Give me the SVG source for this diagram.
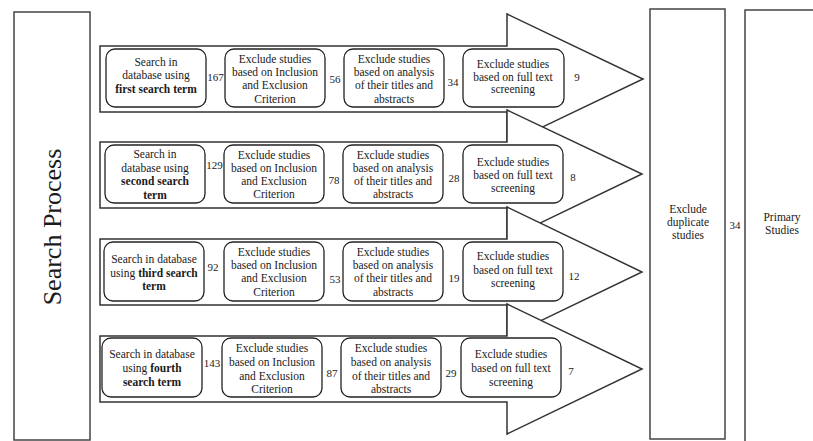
<svg xmlns="http://www.w3.org/2000/svg" width="813" height="441" viewBox="0 0 813 441" font-family="'Liberation Serif', 'Times New Roman', serif">
<style>
  text { font-family: "Liberation Serif", "Times New Roman", serif; fill: #1a1a1a; }
  .t { font-size: 11.5px; text-anchor: middle; }
  .n { font-size: 11px; text-anchor: middle; }
  .b { font-weight: bold; }
  .box { fill: #fff; stroke: #222; stroke-width: 1.3; }
  .frame { fill: #fff; stroke: #444; stroke-width: 1.5; }
  .arrow { fill: #fff; stroke: #333; stroke-width: 1.5; stroke-linejoin: miter; }
</style>
<rect width="813" height="441" fill="#fff"/>

<g id="search-process">
  <rect class="frame" x="14" y="12" width="76" height="428"/>
  <text transform="translate(61,227) rotate(-90)" font-size="26" text-anchor="middle" fill="#333">Search Process</text>
</g>

<g id="connectors">
  <polygon class="arrow" points="100,46 507,46 507,14 643,79 507,144 507,112 100,112"/>
  <polygon class="arrow" points="100,142 507,142 507,110 642,174 507,239 507,208 100,208"/>
  <polygon class="arrow" points="100,239 507,239 507,207 642,272 507,337 507,305 100,305"/>
  <polygon class="arrow" points="100,336 507,336 507,304 642,369 507,434 507,402 100,402"/>
</g>

<!-- Row 1 -->
<g id="r1-search">
  <rect class="box" x="106" y="49" width="100" height="58" rx="9"/>
  <text class="t" x="156" y="66">Search in</text>
  <text class="t" x="156" y="79">database using</text>
  <text class="t b" x="156" y="93">first search term</text>
</g>
<g id="r1-inclusion">
  <rect class="box" x="225" y="49" width="100" height="58" rx="9"/>
  <text class="t" x="275" y="63">Exclude studies</text>
  <text class="t" x="275" y="76">based on Inclusion</text>
  <text class="t" x="275" y="89">and Exclusion</text>
  <text class="t" x="275" y="103">Criterion</text>
</g>
<g id="r1-titles">
  <rect class="box" x="344" y="49" width="100" height="58" rx="9"/>
  <text class="t" x="394" y="63">Exclude studies</text>
  <text class="t" x="394" y="76">based on analysis</text>
  <text class="t" x="394" y="89">of their titles and</text>
  <text class="t" x="394" y="103">abstracts</text>
</g>
<g id="r1-fulltext">
  <rect class="box" x="463" y="49" width="101" height="58" rx="9"/>
  <text class="t" x="513" y="68">Exclude studies</text>
  <text class="t" x="513" y="81">based on full text</text>
  <text class="t" x="513" y="93">screening</text>
</g>
<g id="r1-counts">
  <text class="n" x="215.5" y="81">167</text>
  <text class="n" x="335" y="83">56</text>
  <text class="n" x="453" y="86">34</text>
  <text class="n" x="577" y="81">9</text>
</g>

<!-- Row 2 -->
<g id="r2-search">
  <rect class="box" x="105" y="145" width="100" height="58" rx="9"/>
  <text class="t" x="155" y="158">Search in</text>
  <text class="t" x="155" y="171.5">database using</text>
  <text class="t b" x="155" y="185">second search</text>
  <text class="t b" x="155" y="198.5">term</text>
</g>
<g id="r2-inclusion">
  <rect class="box" x="224" y="145" width="100" height="58" rx="9"/>
  <text class="t" x="274" y="159">Exclude studies</text>
  <text class="t" x="274" y="172">based on Inclusion</text>
  <text class="t" x="274" y="185">and Exclusion</text>
  <text class="t" x="274" y="198">Criterion</text>
</g>
<g id="r2-titles">
  <rect class="box" x="343" y="145" width="100" height="58" rx="9"/>
  <text class="t" x="393" y="159">Exclude studies</text>
  <text class="t" x="393" y="172">based on analysis</text>
  <text class="t" x="393" y="185">of their titles and</text>
  <text class="t" x="393" y="198">abstracts</text>
</g>
<g id="r2-fulltext">
  <rect class="box" x="463" y="145" width="100" height="58" rx="9"/>
  <text class="t" x="513" y="166">Exclude studies</text>
  <text class="t" x="513" y="179">based on full text</text>
  <text class="t" x="513" y="192">screening</text>
</g>
<g id="r2-counts">
  <text class="n" x="214.5" y="169">129</text>
  <text class="n" x="334" y="184">78</text>
  <text class="n" x="454" y="182">28</text>
  <text class="n" x="573" y="181">8</text>
</g>

<!-- Row 3 -->
<g id="r3-search">
  <rect class="box" x="104" y="242" width="100" height="59" rx="9"/>
  <text class="t" x="154" y="263">Search in database</text>
  <text class="t" x="154" y="277">using <tspan class="b">third search</tspan></text>
  <text class="t b" x="154" y="290">term</text>
</g>
<g id="r3-inclusion">
  <rect class="box" x="224" y="242" width="100" height="59" rx="9"/>
  <text class="t" x="274" y="256">Exclude studies</text>
  <text class="t" x="274" y="269">based on Inclusion</text>
  <text class="t" x="274" y="282">and Exclusion</text>
  <text class="t" x="274" y="296">Criterion</text>
</g>
<g id="r3-titles">
  <rect class="box" x="343" y="242" width="100" height="59" rx="9"/>
  <text class="t" x="393" y="256">Exclude studies</text>
  <text class="t" x="393" y="269">based on analysis</text>
  <text class="t" x="393" y="282">of their titles and</text>
  <text class="t" x="393" y="296">abstracts</text>
</g>
<g id="r3-fulltext">
  <rect class="box" x="463" y="242" width="100" height="59" rx="9"/>
  <text class="t" x="513" y="260">Exclude studies</text>
  <text class="t" x="513" y="274">based on full text</text>
  <text class="t" x="513" y="287">screening</text>
</g>
<g id="r3-counts">
  <text class="n" x="213" y="271">92</text>
  <text class="n" x="335" y="283">53</text>
  <text class="n" x="454" y="282">19</text>
  <text class="n" x="574" y="280">12</text>
</g>

<!-- Row 4 -->
<g id="r4-search">
  <rect class="box" x="102" y="338" width="100" height="59" rx="9"/>
  <text class="t" x="152" y="358">Search in database</text>
  <text class="t" x="152" y="372">using <tspan class="b">fourth</tspan></text>
  <text class="t b" x="152" y="386">search term</text>
</g>
<g id="r4-inclusion">
  <rect class="box" x="222" y="338" width="100" height="59" rx="9"/>
  <text class="t" x="272" y="352">Exclude studies</text>
  <text class="t" x="272" y="366">based on Inclusion</text>
  <text class="t" x="272" y="380">and Exclusion</text>
  <text class="t" x="272" y="393">Criterion</text>
</g>
<g id="r4-titles">
  <rect class="box" x="341" y="338" width="100" height="59" rx="9"/>
  <text class="t" x="391" y="352">Exclude studies</text>
  <text class="t" x="391" y="366">based on analysis</text>
  <text class="t" x="391" y="380">of their titles and</text>
  <text class="t" x="391" y="393">abstracts</text>
</g>
<g id="r4-fulltext">
  <rect class="box" x="461" y="338" width="100" height="59" rx="9"/>
  <text class="t" x="511" y="358">Exclude studies</text>
  <text class="t" x="511" y="372">based on full text</text>
  <text class="t" x="511" y="386">screening</text>
</g>
<g id="r4-counts">
  <text class="n" x="212" y="367">143</text>
  <text class="n" x="332" y="377">87</text>
  <text class="n" x="451" y="377">29</text>
  <text class="n" x="571" y="375">7</text>
</g>

<!-- Right side -->
<g id="duplicates">
  <rect class="frame" x="650" y="9" width="75" height="430"/>
  <text class="t" x="688" y="213">Exclude</text>
  <text class="t" x="688" y="226">duplicate</text>
  <text class="t" x="688" y="239">studies</text>
</g>
<g id="dup-count">
  <text class="n" x="735" y="229">34</text>
</g>
<g id="primary">
  <rect class="frame" x="745" y="10" width="80" height="440"/>
  <text class="t" x="782" y="221">Primary</text>
  <text class="t" x="782" y="234">Studies</text>
</g>
</svg>
